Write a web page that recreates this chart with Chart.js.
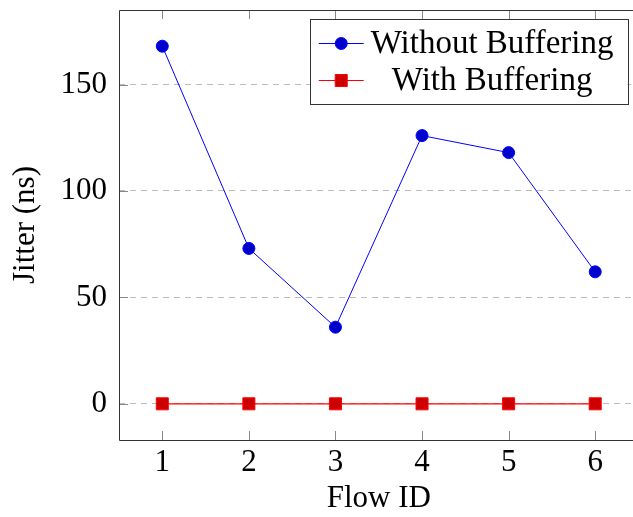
<!DOCTYPE html>
<html>
  <head>
    <title>Jitter per Flow</title>
    <style>
      html, body { margin: 0; padding: 0; overflow: hidden; background: #fff; }
      #wrap { width: 648px; height: 517px; }
    </style>
  </head>
  <body>
    <div id="wrap"><canvas id="jitterChart" width="648" height="517"></canvas></div>

    <script src="https://cdn.jsdelivr.net/npm/chart.js"></script>
    <script>
      // data
      const flowIds = [1, 2, 3, 4, 5, 6];
      const withoutBuffering = [168, 73, 36, 126, 118, 62];
      const withBuffering = [0, 0, 0, 0, 0, 0];
      const yTicks = [0, 50, 100, 150];

      const FONT = "'Liberation Serif', 'DejaVu Serif', serif";

      // pgfplots style frame + inward ticks
      const framePlugin = {
        id: "frame",
        afterDatasetsDraw(chart) {
          const { ctx, chartArea: a, scales } = chart;
          ctx.save();
          ctx.strokeStyle = "#888";
          ctx.lineWidth = 1;
          ctx.beginPath();
          flowIds.forEach((v) => {
            const x = Math.round(scales.x.getPixelForValue(v)) + 0.5;
            ctx.moveTo(x, a.bottom); ctx.lineTo(x, a.bottom - 9);
            ctx.moveTo(x, a.top); ctx.lineTo(x, a.top + 9);
          });
          yTicks.forEach((v) => {
            const y = Math.round(scales.y.getPixelForValue(v)) + 0.5;
            ctx.moveTo(a.left, y); ctx.lineTo(a.left + 9, y);
          });
          ctx.stroke();
          // frame: left, top, bottom (right edge falls outside the picture)
          const l = Math.round(a.left) + 0.5, t = Math.round(a.top) + 0.5, b = Math.round(a.bottom) + 0.5;
          ctx.strokeStyle = "#333";
          ctx.beginPath();
          ctx.moveTo(a.right, t); ctx.lineTo(l, t); ctx.lineTo(l, b); ctx.lineTo(a.right, b);
          ctx.stroke();
          ctx.restore();
        },
      };

      // legend box inside the plot, top right
      const legendPlugin = {
        id: "boxLegend",
        afterDraw(chart) {
          const { ctx, chartArea: a, scales } = chart;
          const sets = chart.data.datasets;
          ctx.save();
          ctx.font = "33px " + FONT;
          const textW = Math.max(...sets.map((d) => ctx.measureText(d.label).width));
          const rowH = 37;
          const w = 9 + 45 + 7 + textW + 14;
          const h = rowH * sets.length + 11;
          const right = scales.x.getPixelForValue(6.5) - 11;
          const left = right - w;
          const top = a.top + 9;
          ctx.fillStyle = "#fff";
          ctx.fillRect(left, top, w, h);
          ctx.strokeStyle = "#333";
          ctx.lineWidth = 1;
          ctx.strokeRect(Math.round(left) + 0.5, Math.round(top) + 0.5, Math.round(w), Math.round(h));
          sets.forEach((d, i) => {
            const cy = Math.round(top + 24 + i * rowH) + 0.5;
            const lx = left + 9;
            ctx.strokeStyle = d.borderColor;
            ctx.lineWidth = 1;
            ctx.beginPath();
            ctx.moveTo(lx, cy); ctx.lineTo(lx + 45, cy);
            ctx.stroke();
            ctx.fillStyle = d.pointBackgroundColor;
            ctx.beginPath();
            if (d.pointStyle === "rect") {
              ctx.rect(lx + 22.5 - 6, cy - 6, 12, 12);
            } else {
              ctx.arc(lx + 22.5, cy, 6, 0, Math.PI * 2);
            }
            ctx.fill();
            ctx.stroke();
            ctx.fillStyle = "#000";
            ctx.textAlign = "center";
            ctx.textBaseline = "middle";
            ctx.fillText(d.label, lx + 45 + 7 + textW / 2, cy + 1);
          });
          ctx.restore();
        },
      };

      new Chart(document.getElementById("jitterChart"), {
        type: "line",
        data: {
          datasets: [
            {
              label: "Without Buffering",
              data: flowIds.map((f, i) => ({ x: f, y: withoutBuffering[i] })),
              borderColor: "#0000ff",
              borderWidth: 1,
              pointStyle: "circle",
              pointRadius: 6,
              pointBorderWidth: 1,
              pointBackgroundColor: "#0000cc",
              pointBorderColor: "#0000ff",
              tension: 0,
            },
            {
              label: "With Buffering",
              data: flowIds.map((f, i) => ({ x: f, y: withBuffering[i] })),
              borderColor: "#ff0000",
              borderWidth: 1.2,
              pointStyle: "rect",
              pointRadius: 8.5,
              pointBorderWidth: 1,
              pointBackgroundColor: "#cc0000",
              pointBorderColor: "#ff0000",
              tension: 0,
            },
          ],
        },
        options: {
          responsive: false,
          animation: false,
          layout: { padding: { top: 10, right: 3, left: 0, bottom: 0 } },
          plugins: { legend: { display: false }, tooltip: { enabled: false } },
          scales: {
            x: {
              type: "linear",
              min: 0.5,
              max: 6.5,
              afterBuildTicks: (s) => { s.ticks = flowIds.map((v) => ({ value: v })); },
              afterFit: (s) => { s.height = 77; s.paddingLeft = 0; s.paddingRight = 0; },
              grid: { display: false, drawTicks: false },
              border: { display: false },
              ticks: { color: "#000", font: { family: FONT, size: 31 }, padding: 4, maxRotation: 0 },
              title: { display: true, text: "Flow ID", color: "#000", font: { family: FONT, size: 31 }, padding: { top: 8, bottom: 0 } },
            },
            y: {
              min: -17,
              max: 185,
              afterBuildTicks: (s) => { s.ticks = yTicks.map((v) => ({ value: v })); },
              afterFit: (s) => { s.width = 119; s.paddingTop = 0; s.paddingBottom = 0; },
              grid: { color: "#bbb", lineWidth: 1, drawTicks: false },
              border: { display: false, dash: [6, 5] },
              ticks: { color: "#000", font: { family: FONT, size: 31 }, padding: 12 },
              title: { display: true, text: "Jitter (ns)", color: "#000", font: { family: FONT, size: 31 }, padding: { top: 7, bottom: 0 } },
            },
          },
        },
        plugins: [framePlugin, legendPlugin],
      });
    </script>
  </body>
</html>
